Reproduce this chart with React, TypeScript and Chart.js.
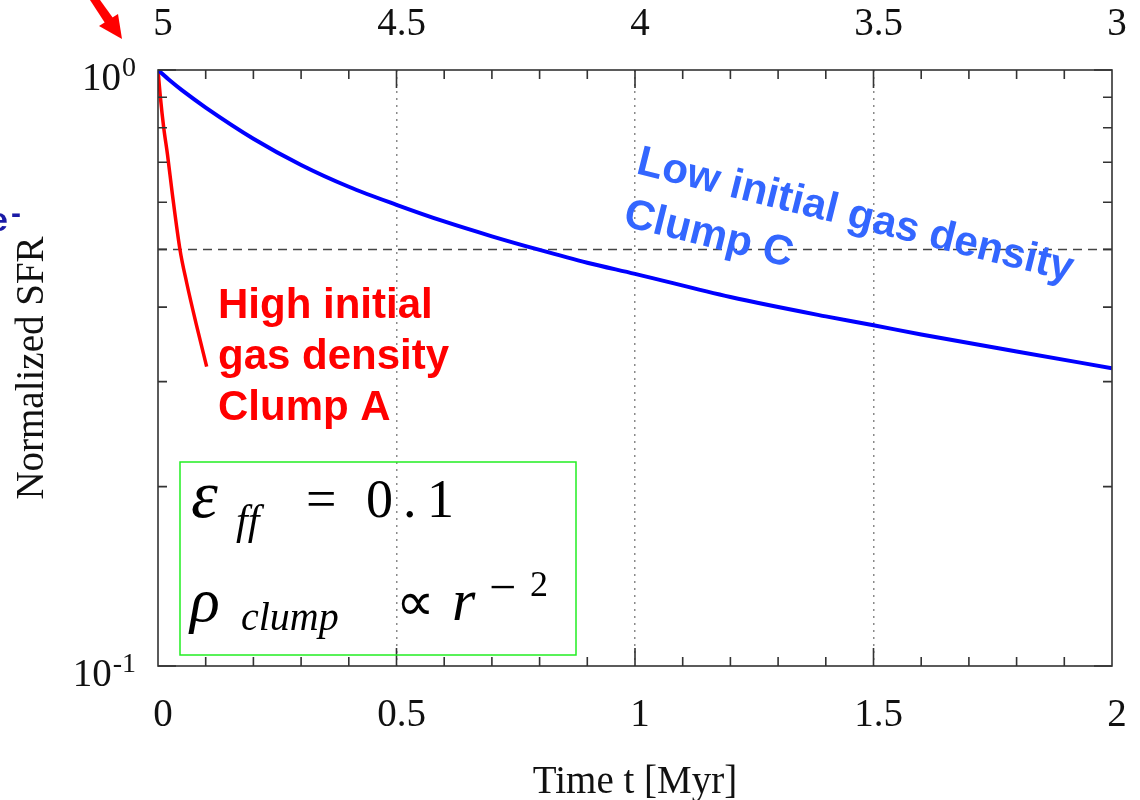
import React, { useEffect, useRef } from 'react';
import { Chart, registerables } from 'chart.js';

Chart.register(...registerables);

// ---- data ----
const bottomTimeLabels = ['0', '0.5', '1', '1.5', '2'];
const topAgeLabels = ['5', '4.5', '4', '3.5', '3'];

const clumpCTime = [0, 0.025, 0.05, 0.1, 0.2, 0.3, 0.4, 0.5, 0.6, 0.7, 0.8, 0.9, 1.0, 1.2, 1.4, 1.5, 1.6, 1.8, 2.0];
const clumpCSFR = [1, 0.96, 0.925, 0.865, 0.767, 0.693, 0.637, 0.594, 0.557, 0.526, 0.499, 0.475, 0.455, 0.416, 0.386, 0.373, 0.36, 0.337, 0.316];

const clumpATime = [0, 0.005, 0.012, 0.02, 0.03, 0.046, 0.06, 0.08, 0.102];
const clumpASFR = [1, 0.9, 0.8, 0.72, 0.62, 0.5, 0.44, 0.375, 0.318];

const halfTime = [0, 2];
const halfLevel = [0.5, 0.5];

const gridTimes = [0.5, 1, 1.5];
const xMinorTicks = [0.1, 0.2, 0.3, 0.4, 0.6, 0.7, 0.8, 0.9, 1.1, 1.2, 1.3, 1.4, 1.6, 1.7, 1.8, 1.9];
const xMajorTicks = [0.5, 1, 1.5];
const yMinorTicks = [0.2, 0.3, 0.4, 0.5, 0.6, 0.7, 0.8, 0.9];
const yMajorTicks = [0.1, 1];
const yLabelExponents = ['-1', '0'];

const SERIF = '"Liberation Serif", "Times New Roman", serif';
const SANS = '"Liberation Sans", Arial, sans-serif';

const toXY = (xs: number[], ys: number[]) => xs.map((x, i) => ({ x, y: ys[i] }));

const decorPlugin = {
  id: 'decor',
  afterDraw(chart: any) {
    const { ctx, chartArea: a, scales } = chart;
    const xs = scales.x;
    const ys = scales.y;
    ctx.save();

    // frame
    ctx.strokeStyle = '#333';
    ctx.lineWidth = 1.6;
    ctx.strokeRect(a.left, a.top, a.right - a.left, a.bottom - a.top);

    // inward tick marks
    ctx.beginPath();
    const tickX = (v: number, len: number) => {
      const px = xs.getPixelForValue(v);
      ctx.moveTo(px, a.bottom);
      ctx.lineTo(px, a.bottom - len);
      ctx.moveTo(px, a.top);
      ctx.lineTo(px, a.top + len);
    };
    xMinorTicks.forEach((v) => tickX(v, 9));
    xMajorTicks.forEach((v) => tickX(v, 18));
    const tickY = (v: number, len: number) => {
      const py = ys.getPixelForValue(v);
      ctx.moveTo(a.left, py);
      ctx.lineTo(a.left + len, py);
      ctx.moveTo(a.right, py);
      ctx.lineTo(a.right - len, py);
    };
    yMinorTicks.forEach((v) => tickY(v, 9));
    yMajorTicks.forEach((v) => tickY(v, 18));
    ctx.stroke();

    // y tick labels 10^-1, 10^0
    ctx.fillStyle = '#111';
    ctx.textBaseline = 'alphabetic';
    yMajorTicks.forEach((v, i) => {
      const py = ys.getPixelForValue(v);
      const exp = yLabelExponents[i];
      ctx.font = `28px ${SERIF}`;
      const ew = ctx.measureText(exp).width;
      const right = a.left - 22;
      ctx.textAlign = 'left';
      ctx.fillText(exp, right - ew, py + 6);
      ctx.font = `39px ${SERIF}`;
      ctx.textAlign = 'right';
      ctx.fillText('10', right - ew - 1, py + 20);
    });

    // red annotation
    ctx.textAlign = 'left';
    ctx.fillStyle = '#ff0000';
    ctx.font = `bold 42px ${SANS}`;
    ctx.fillText('High initial', 218, 318);
    ctx.fillText('gas density', 218, 369);
    ctx.fillText('Clump A', 218, 420);

    // blue rotated annotation
    ctx.save();
    ctx.fillStyle = '#3366ff';
    ctx.font = `bold 42px ${SANS}`;
    ctx.translate(635, 173);
    ctx.rotate((14 * Math.PI) / 180);
    ctx.fillText('Low initial gas density', 0, 0);
    ctx.fillText('Clump C', 0, 54);
    ctx.restore();

    // green box
    ctx.strokeStyle = '#22ee22';
    ctx.lineWidth = 1.5;
    ctx.strokeRect(180, 462, 396, 193);
    ctx.fillStyle = '#000';
    ctx.font = `italic 68px ${SERIF}`;
    ctx.fillText('ε', 191, 517);
    ctx.font = `italic 42px ${SERIF}`;
    ctx.fillText('ff', 236, 534);
    ctx.font = `54px ${SERIF}`;
    ctx.fillText('=', 306, 517);
    ctx.fillText('0', 366, 517);
    ctx.fillText('.', 403, 517);
    ctx.fillText('1', 427, 517);
    ctx.font = `italic 62px ${SERIF}`;
    ctx.fillText('ρ', 190, 621);
    ctx.font = `italic 40px ${SERIF}`;
    ctx.fillText('clump', 241, 630);
    ctx.font = `54px ${SERIF}`;
    ctx.fillText('∝', 396, 620);
    ctx.font = `italic 60px ${SERIF}`;
    ctx.fillText('r', 452, 620);
    ctx.font = `48px ${SERIF}`;
    ctx.fillText('−', 489, 603);
    ctx.font = `36px ${SERIF}`;
    ctx.fillText('2', 530, 596);

    // clipped red arrow (top-left)
    ctx.fillStyle = '#ff0000';
    ctx.beginPath();
    ctx.moveTo(90, 0);
    ctx.lineTo(100, 0);
    ctx.lineTo(113, 18);
    ctx.lineTo(105, 23);
    ctx.closePath();
    ctx.fill();
    ctx.beginPath();
    ctx.moveTo(99, 26);
    ctx.lineTo(118, 14);
    ctx.lineTo(122, 39);
    ctx.closePath();
    ctx.fill();

    // clipped navy fragment at left edge
    ctx.fillStyle = '#1a1aa6';
    ctx.font = `bold 34px ${SANS}`;
    ctx.fillText('e', -11, 231);
    ctx.font = `bold 30px ${SANS}`;
    ctx.fillText('-', 11, 223);

    ctx.restore();
  },
};

export default function App() {
  const ref = useRef<HTMLCanvasElement | null>(null);

  useEffect(() => {
    if (!ref.current) return;
    const noSidePad = (s: any) => { s.paddingLeft = 0; s.paddingRight = 0; };
    const chart = new Chart(ref.current, {
      type: 'line',
      data: {
        datasets: [
          {
            label: 'Clump C',
            data: toXY(clumpCTime, clumpCSFR),
            borderColor: '#0000ff',
            borderWidth: 4,
            pointRadius: 0,
            cubicInterpolationMode: 'monotone',
            xAxisID: 'x',
            yAxisID: 'y',
          },
          {
            label: 'Clump A',
            data: toXY(clumpATime, clumpASFR),
            borderColor: '#ff0000',
            borderWidth: 3.5,
            pointRadius: 0,
            cubicInterpolationMode: 'monotone',
            xAxisID: 'x',
            yAxisID: 'y',
          },
          {
            label: 'half',
            data: toXY(halfTime, halfLevel),
            borderColor: '#444',
            borderWidth: 1.5,
            borderDash: [9, 6],
            pointRadius: 0,
            xAxisID: 'x',
            yAxisID: 'y',
          },
        ],
      },
      options: {
        responsive: false,
        animation: false,
        layout: { padding: { left: 0, right: 28, top: 0, bottom: 0 } },
        plugins: { legend: { display: false }, tooltip: { enabled: false } },
        scales: {
          x: {
            type: 'linear',
            position: 'bottom',
            min: 0,
            max: 2,
            afterFit: (s: any) => { s.height = 134; noSidePad(s); },
            ticks: {
              stepSize: 0.5,
              autoSkip: false,
              maxRotation: 0,
              padding: 26,
              labelOffset: 5,
              color: '#111',
              font: { family: SERIF, size: 39 },
              callback: (_v: any, i: number) => bottomTimeLabels[i],
            },
            grid: {
              drawTicks: false,
              lineWidth: 1.5,
              color: (c: any) => (c.tick && gridTimes.includes(c.tick.value) ? '#8a8a8a' : 'rgba(0,0,0,0)'),
            },
            border: { display: false, dash: [2, 5] },
            title: {
              display: true,
              text: 'Time t [Myr]',
              color: '#111',
              font: { family: SERIF, size: 39, lineHeight: 0.9 },
              padding: { top: 0, bottom: 0 },
            },
          },
          x2: {
            type: 'linear',
            position: 'top',
            min: 0,
            max: 2,
            afterFit: (s: any) => { s.height = 70; noSidePad(s); },
            ticks: {
              stepSize: 0.5,
              autoSkip: false,
              maxRotation: 0,
              padding: 22,
              labelOffset: 5,
              color: '#111',
              font: { family: SERIF, size: 39 },
              callback: (_v: any, i: number) => topAgeLabels[i],
            },
            grid: { display: false, drawTicks: false },
            border: { display: false },
          },
          y: {
            type: 'logarithmic',
            position: 'left',
            min: 0.1,
            max: 1,
            afterFit: (s: any) => { s.width = 158; },
            ticks: { display: false },
            grid: { display: false, drawTicks: false },
            border: { display: false },
            title: {
              display: true,
              text: 'Normalized SFR',
              color: '#111',
              font: { family: SERIF, size: 39, lineHeight: 0.9 },
              padding: { top: 15, bottom: 0 },
            },
          },
        },
      },
      plugins: [decorPlugin],
    });
    return () => chart.destroy();
  }, []);

  return (
    <div style={{ position: 'absolute', left: 0, top: 0, width: 1140, height: 800, background: '#fff' }}>
      <canvas ref={ref} width={1140} height={800} style={{ display: 'block' }} />
    </div>
  );
}
